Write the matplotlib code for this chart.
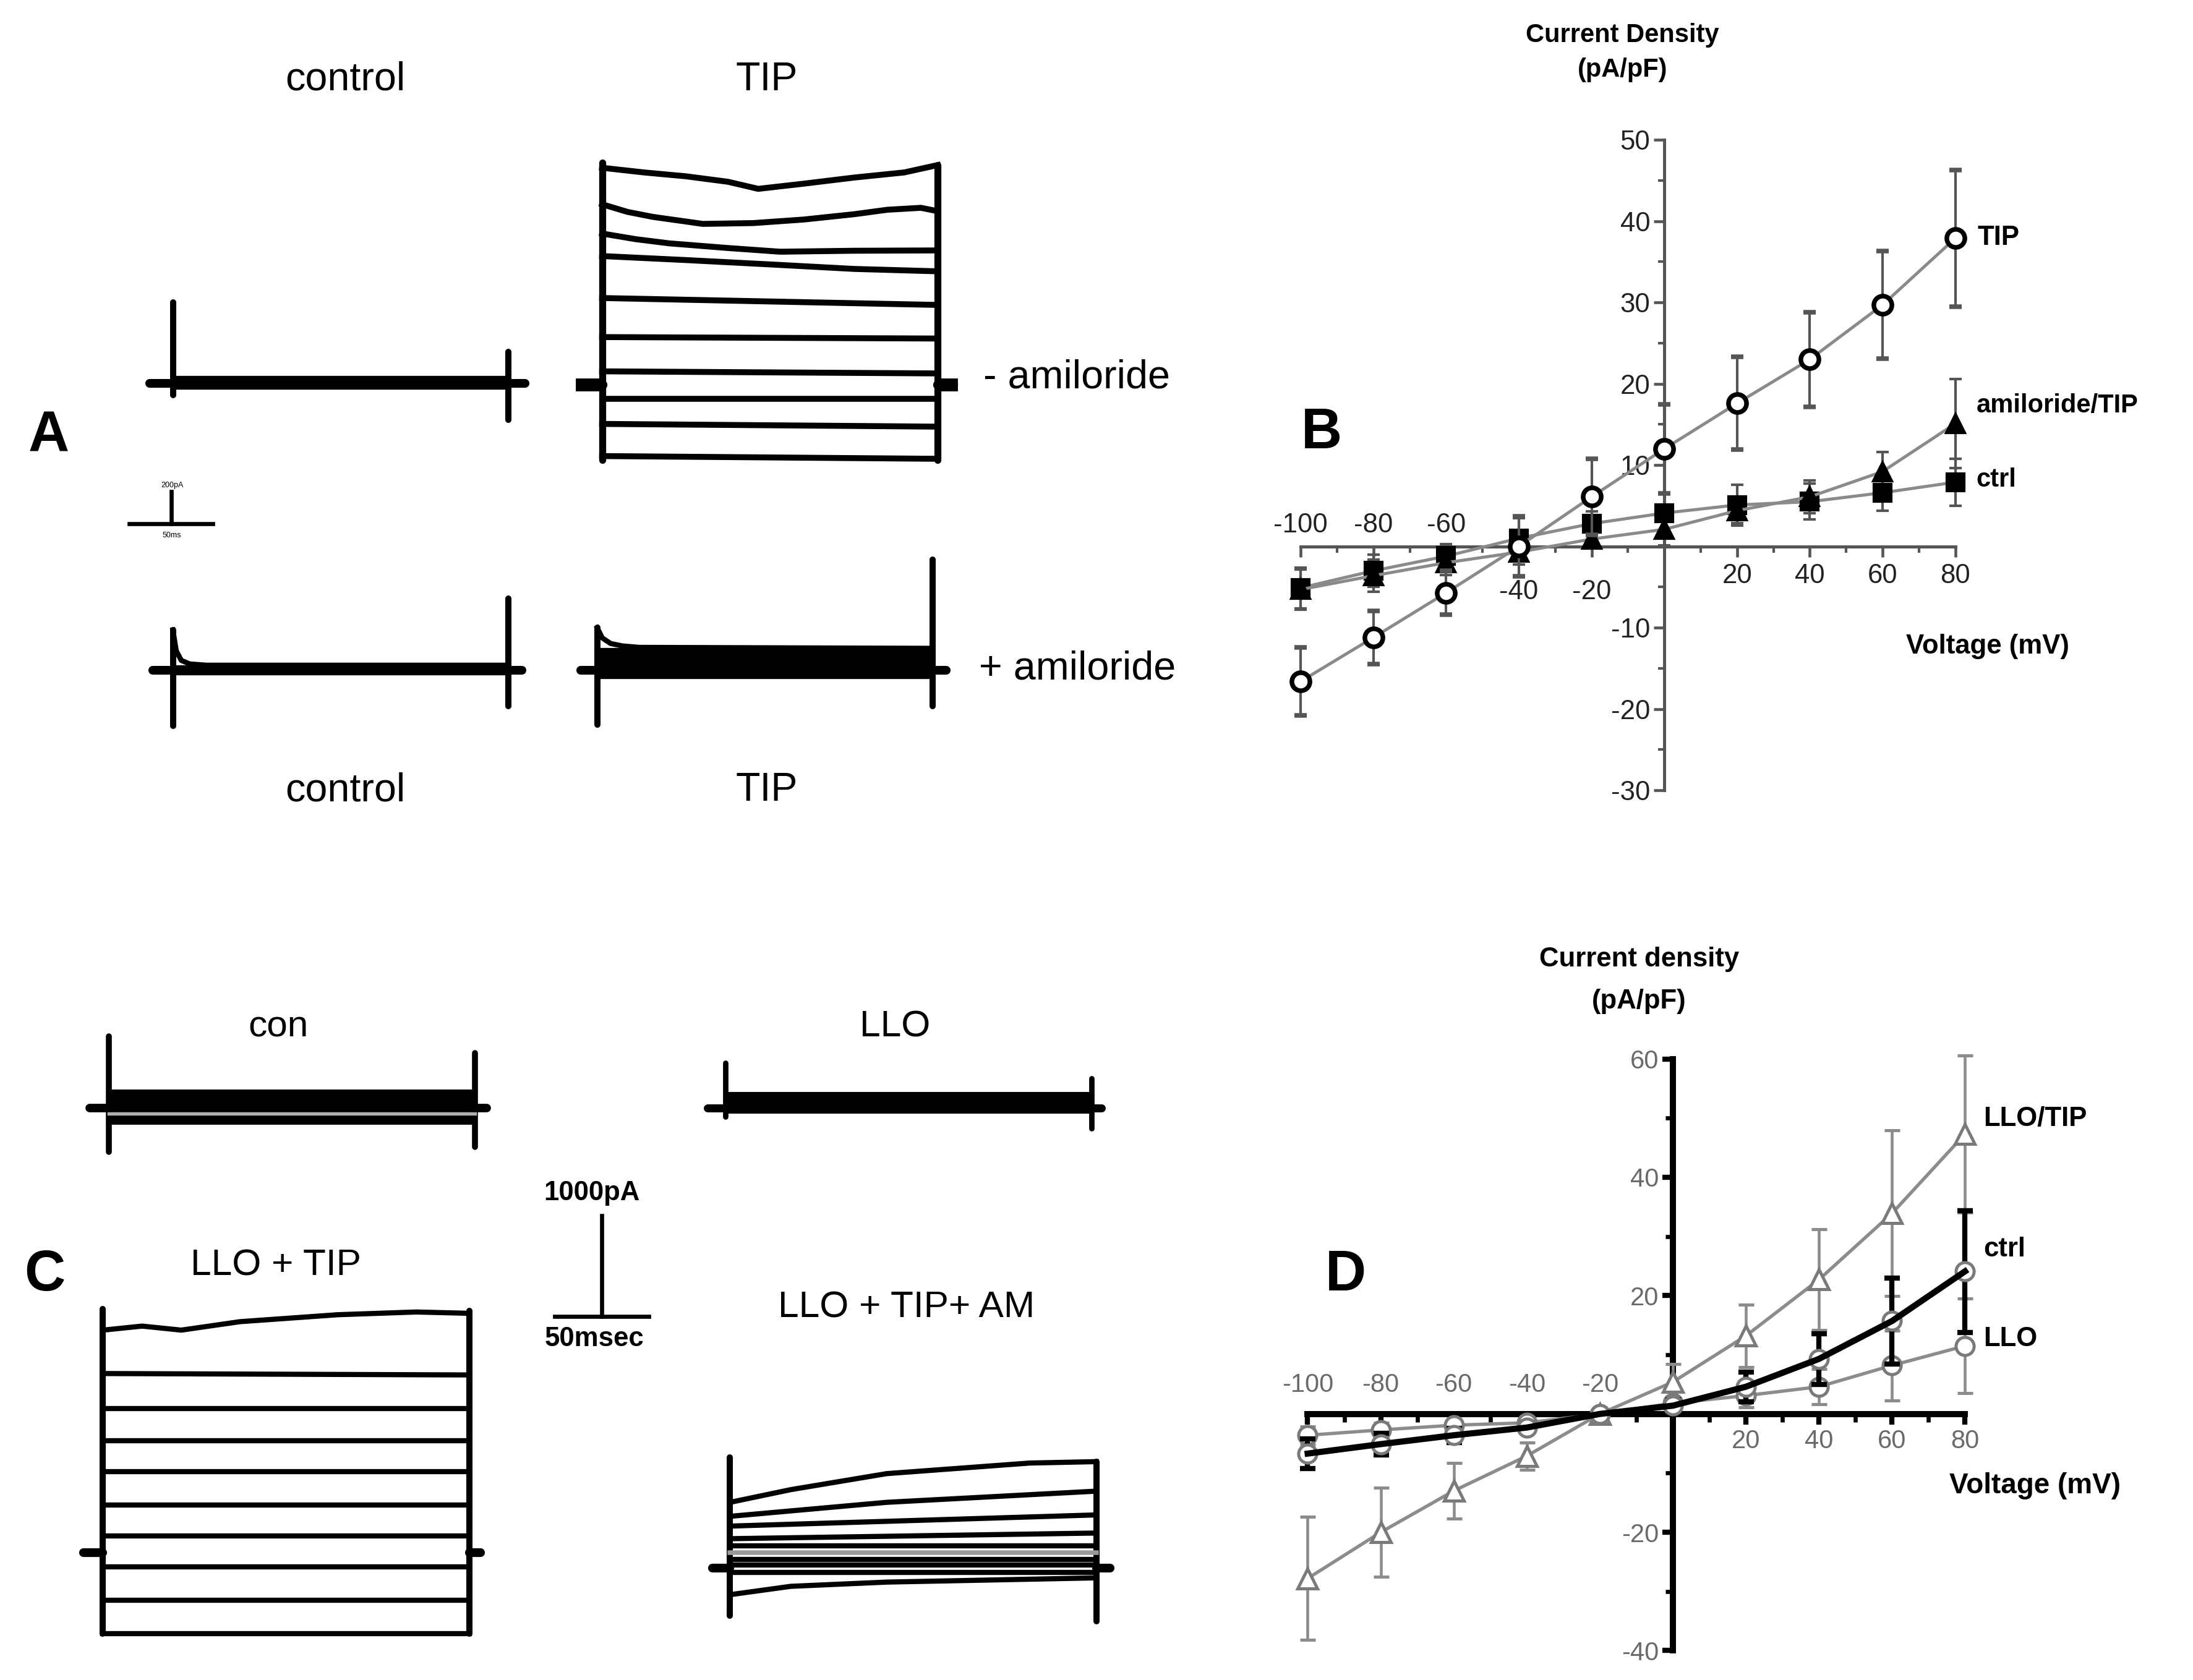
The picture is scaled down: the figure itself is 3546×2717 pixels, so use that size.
import matplotlib.pyplot as plt
from matplotlib.ticker import MultipleLocator

plt.rcParams['font.family'] = ['Liberation Sans', 'DejaVu Sans']

# ---------------- data ----------------
volt = [-100, -80, -60, -40, -20, 0, 20, 40, 60, 80]

# B: current density (pA/pF)
b_tip = [-16.6, -11.2, -5.7, 0.0, 6.1, 12.0, 17.6, 23.0, 29.7, 37.9]
b_tip_err = [4.2, 3.3, 2.7, 3.7, 4.7, 5.5, 5.7, 5.8, 6.6, 8.4]
b_amil = [-5.3, -3.6, -2.0, -0.7, 0.9, 2.1, 4.4, 6.1, 9.2, 15.1]
b_amil_err = [2.5, 2.0, 1.5, 1.5, 1.0, 2.0, 1.5, 2.0, 2.4, 5.5]
b_ctrl = [-5.1, -3.0, -1.2, 1.0, 2.8, 4.1, 5.1, 5.5, 6.6, 7.9]
b_ctrl_err = [2.5, 2.0, 1.5, 2.5, 1.5, 2.5, 2.5, 2.2, 2.2, 2.9]

# D: current density (pA/pF)
d_llotip = [-27.8, -20.0, -13.0, -7.1, 0.0, 5.4, 13.2, 22.7, 33.9, 47.3]
d_llotip_err = [10.4, 7.5, 4.7, 2.3, 0.8, 3.0, 5.3, 8.5, 14.0, 13.3]
d_ctrl = [-6.7, -5.1, -3.6, -2.3, 0.0, 1.4, 4.6, 9.3, 15.7, 24.1]
d_ctrl_err = [2.5, 1.8, 1.2, 0.8, 0.5, 1.0, 2.5, 4.3, 7.3, 10.3]
d_llo = [-3.6, -2.7, -1.9, -1.5, 0.0, 1.8, 3.1, 4.6, 8.2, 11.5]
d_llo_err = [1.5, 1.2, 1.0, 0.8, 0.5, 1.0, 2.0, 3.0, 5.9, 8.0]

# A: whole-cell current traces (pA vs ms)
a_pulse = 200
a_tip_t = [[0, 25, 50, 75, 93, 120, 150, 180, 200],
           [0, 15, 30, 60, 90, 120, 150, 170, 190, 200],
           [0, 20, 40, 75, 106, 150, 200],
           [0, 50, 100, 150, 200], [0, 200], [0, 200], [0, 200], [0, 200], [0, 200], [0, 200]]
a_tip_i = [[1349, 1320, 1296, 1262, 1218, 1250, 1288, 1320, 1366],
           [1122, 1075, 1044, 1000, 1005, 1027, 1060, 1088, 1100, 1079],
           [940, 905, 879, 850, 827, 833, 835],
           [800, 775, 748, 720, 705], [539, 496], [296, 287],
           [83, 70], [-87, -87], [-244, -261], [-444, -461]]
a_ctl_band = [30, 12, -6, -22]
a_ctlam_decay_t = [0, 2, 5, 10, 20, 200]
a_ctlam_decay_i = [250, 120, 60, 38, 30, 30]
a_ctlam_band = [14, -2, -18]
a_tipam_decay_t = [0, 3, 8, 15, 25, 200]
a_tipam_decay_i = [263, 200, 165, 150, 141, 135]
a_tipam_band = [122, 105, 88, 72, 56, 40, 25, 10, -2, -15, -28, -38]

# C: whole-cell current traces (pA vs ms)
c_pulse = 187
c_con_band = [160, 130, 100, 70, 40, 12, -20, -90, -115, -145]
c_con_grey = [-56]
c_llo_band = [140, 115, 90, 65, 40, 15, -10, -35]
c_tip_t = [[0, 20, 40, 70, 120, 160, 187]] + [[0, 187]] * 9
c_tip_i = [[2210, 2250, 2210, 2294, 2363, 2390, 2377], [1779, 1765], [1432, 1432], [1112, 1112],
           [806, 806], [473, 473], [167, 167], [-139, -139], [-473, -473], [-806, -806]]
c_am_t = [[0, 31, 80, 153, 187], [0, 80, 187], [0, 187], [0, 187], [0, 187],
          [0, 187], [0, 187], [0, 187], [0, 31, 80, 187]]
c_am_i = [[653, 779, 938, 1043, 1057], [514, 653, 764], [417, 528], [292, 348],
          [222, 222], [83, 83], [28, 28], [-40, -40], [-264, -181, -139, -97]]
c_am_grey = [153]

# ---------------- figure ----------------
W, H = 1568, 1201
fig = plt.figure(figsize=(3546 / 300, 2717 / 300), dpi=300)
bg = fig.add_axes([0, 0, 1, 1])
bg.set_xlim(0, W)
bg.set_ylim(H, 0)
bg.axis('off')


def box(x0, y0, x1, y1):
    return [x0 / W, 1 - y1 / H, (x1 - x0) / W, (y1 - y0) / H]


def trace_ax(x0, y_hold, ms_px, pa_px, tlim=(-40, 240), ilim=(-1200, 2600)):
    ax = fig.add_axes(box(x0 + tlim[0] / ms_px, y_hold - ilim[1] / pa_px,
                          x0 + tlim[1] / ms_px, y_hold - ilim[0] / pa_px))
    ax.set_xlim(tlim)
    ax.set_ylim(ilim)
    ax.axis('off')
    return ax


def draw_cell(ax, pulse, ts, iis, on, off, pre, post, lw=1.6, color='k'):
    for t, i in zip(ts, iis):
        ax.plot(t, i, color=color, lw=lw, solid_joinstyle='round')
    ax.plot([0, 0], on, color='k', lw=lw + 0.4, solid_capstyle='round')
    ax.plot([pulse, pulse], off, color='k', lw=lw + 0.4, solid_capstyle='round')
    ax.plot([-pre, 0], [0, 0], color='k', lw=lw + 1.4, solid_capstyle='round')
    ax.plot([pulse, pulse + post], [0, 0], color='k', lw=lw + 1.4, solid_capstyle='round')


def flat(levels, pulse):
    return [[0, pulse]] * len(levels), [[v, v] for v in levels]


# ---- panel A traces
ms_a, pa_a = 50 / 60, 8.7
ax = trace_ax(123.6, 274, ms_a, pa_a)
t, i = flat(a_ctl_band, a_pulse)
draw_cell(ax, a_pulse, t, i, [505, -72], [197, -226], 14, 10, lw=2.0)

ax = trace_ax(430.5, 275, ms_a, pa_a)
draw_cell(ax, a_pulse, a_tip_t, a_tip_i, [1380, -470], [1366, -470], 12, 9, lw=2.3)
ax.plot([-12, -5], [0, 0], color='k', lw=5)
ax.plot([a_pulse + 3, a_pulse + 8], [0, 0], color='k', lw=5)

ax = trace_ax(123.6, 479, ms_a, pa_a)
t, i = flat(a_ctlam_band, a_pulse)
draw_cell(ax, a_pulse, [a_ctlam_decay_t] + t, [a_ctlam_decay_i] + i,
          [250, -346], [444, -226], 12, 8, lw=2.0)

ax = trace_ax(427, 479, ms_a, pa_a)
t, i = flat(a_tipam_band, a_pulse)
draw_cell(ax, a_pulse, [a_tipam_decay_t] + t, [a_tipam_decay_i] + i,
          [263, -340], [687, -226], 10, 8, lw=2.0)

# A scale bar
ax = trace_ax(122.3, 374.4, ms_a, pa_a)
ax.plot([-25, 25], [0, 0], color='k', lw=1.6)
ax.plot([0, 0], [0, 200], color='k', lw=1.6)
bg.text(123, 347, '200pA', fontsize=3, ha='center', va='center')
bg.text(123, 383, '50ms', fontsize=3, ha='center', va='center')

# ---- panel C traces
ms_c, pa_c = 50 / 70, 1000 / 72
ax = trace_ax(78, 792, ms_c, pa_c)
t, i = flat(c_con_band, c_pulse)
draw_cell(ax, c_pulse, t, i, [709, -439], [542, -389], 10, 6, lw=1.9)
t, i = flat(c_con_grey, c_pulse)
ax.plot(t[0], i[0], color='#b0b0b0', lw=1.3)

ax = trace_ax(518.6, 792, ms_c, pa_c)
t, i = flat(c_llo_band, c_pulse)
draw_cell(ax, c_pulse, t, i, [445, -90], [292, -203], 9, 5, lw=1.7)

ax = trace_ax(73.6, 1110, ms_c, pa_c)
draw_cell(ax, c_pulse, c_tip_t, c_tip_i, [2420, -806], [2400, -806], 10, 6, lw=2.0)

ax = trace_ax(522, 1121, ms_c, pa_c)
draw_cell(ax, c_pulse, c_am_t, c_am_i, [1098, -473], [1057, -528], 9, 7, lw=2.0)
t, i = flat(c_am_grey, c_pulse)
ax.plot(t[0], i[0], color='#9a9a9a', lw=1.8)

# C scale bar
ax = trace_ax(430.4, 941, ms_c, pa_c)
ax.plot([-24, 24], [0, 0], color='k', lw=1.6)
ax.plot([0, 0], [0, 1000], color='k', lw=1.6)
bg.text(423, 853, '1000pA', fontsize=10.5, fontweight='bold', ha='center', va='center')
bg.text(425, 957, '50msec', fontsize=10.5, fontweight='bold', ha='center', va='center')

# ---- texts for A and C
for x, y, s in [(247, 57, 'control'), (548, 57, 'TIP'), (247, 565, 'control'), (548, 565, 'TIP')]:
    bg.text(x, y, s, fontsize=15.5, ha='center', va='center')
bg.text(703, 270, '- amiloride', fontsize=15.5, ha='left', va='center')
bg.text(700, 478, '+ amiloride', fontsize=15.5, ha='left', va='center')
for x, y, s in [(199, 734, 'con'), (640, 734, 'LLO'), (197, 905, 'LLO + TIP'), (648, 935, 'LLO + TIP+ AM')]:
    bg.text(x, y, s, fontsize=14.5, ha='center', va='center')
for x, y, s in [(35, 312, 'A'), (945, 310, 'B'), (32, 912, 'C'), (962, 912, 'D')]:
    bg.text(x, y, s, fontsize=22, fontweight='bold', ha='center', va='center')

# ---------------- panel B ----------------
axb = fig.add_axes(box(930, 100, 1398, 565))
axb.set_xlim(-100, 80)
axb.set_ylim(-30, 50)
axb.patch.set_alpha(0)
for s in ['top', 'right']:
    axb.spines[s].set_visible(False)
for s in ['left', 'bottom']:
    axb.spines[s].set_position(('data', 0))
    axb.spines[s].set_color('#555555')
    axb.spines[s].set_linewidth(1.2)
axb.xaxis.set_major_locator(MultipleLocator(20))
axb.xaxis.set_minor_locator(MultipleLocator(10))
axb.yaxis.set_major_locator(MultipleLocator(10))
axb.yaxis.set_minor_locator(MultipleLocator(5))
axb.tick_params(axis='both', which='major', direction='out', length=4, width=1.1, color='#555555')
axb.tick_params(axis='both', which='minor', direction='out', length=2.5, width=1.0, color='#555555')
axb.tick_params(axis='x', labelbottom=False)
axb.tick_params(axis='y', labelsize=10.5, labelcolor='#222222', pad=1.5)
axb.set_yticks([-30, -20, -10, 0, 10, 20, 30, 40, 50])
axb.set_yticklabels(['-30', '-20', '-10', '', '10', '20', '30', '40', '50'])

axb.errorbar(volt, b_ctrl, yerr=b_ctrl_err, fmt='-s', color='#8a8a8a', lw=1.2,
             ecolor='#555555', elinewidth=1.0, capsize=2.5, capthick=1.0,
             mfc='black', mec='black', ms=6.5, zorder=3)
axb.errorbar(volt, b_amil, yerr=b_amil_err, fmt='-^', color='#8a8a8a', lw=1.2,
             ecolor='#555555', elinewidth=1.0, capsize=2.5, capthick=1.0,
             mfc='black', mec='black', ms=7, zorder=3)
axb.errorbar(volt, b_tip, yerr=b_tip_err, fmt='-o', color='#8a8a8a', lw=1.2,
             ecolor='#555555', elinewidth=1.0, capsize=2.5, capthick=1.0,
             mfc='white', mec='black', mew=1.8, ms=7, zorder=4)
for art in axb.get_children():
    art.set_clip_on(False)

for v in volt:
    if v in (-100, -80, -60):
        axb.text(v, 2.6, str(v), fontsize=10.5, color='#222222', ha='center', va='center')
    elif v in (-40, -20):
        axb.text(v, -5.6, str(v), fontsize=10.5, color='#222222', ha='center', va='center')
    elif v > 0:
        axb.text(v, -3.6, str(v), fontsize=10.5, color='#222222', ha='center', va='center')

bg.text(1160, 25, 'Current Density', fontsize=10, fontweight='bold', ha='center', va='center')
bg.text(1160, 50, '(pA/pF)', fontsize=10, fontweight='bold', ha='center', va='center')
bg.text(1421, 462, 'Voltage (mV)', fontsize=10.5, fontweight='bold', ha='center', va='center')
bg.text(1414, 170, 'TIP', fontsize=10.5, fontweight='bold', ha='left', va='center')
bg.text(1413, 290, 'amiloride/TIP', fontsize=10, fontweight='bold', ha='left', va='center')
bg.text(1413, 343, 'ctrl', fontsize=10, fontweight='bold', ha='left', va='center')

# ---------------- panel D ----------------
axd = fig.add_axes(box(935, 757, 1405, 1180))
axd.set_xlim(-100, 80)
axd.set_ylim(-40, 60)
axd.patch.set_alpha(0)
for s in ['top', 'right']:
    axd.spines[s].set_visible(False)
for s in ['left', 'bottom']:
    axd.spines[s].set_position(('data', 0))
    axd.spines[s].set_color('black')
    axd.spines[s].set_linewidth(2.4)
axd.xaxis.set_major_locator(MultipleLocator(20))
axd.xaxis.set_minor_locator(MultipleLocator(10))
axd.yaxis.set_major_locator(MultipleLocator(20))
axd.yaxis.set_minor_locator(MultipleLocator(10))
axd.tick_params(axis='both', which='major', direction='out', length=4, width=2, color='black')
axd.tick_params(axis='both', which='minor', direction='out', length=3, width=1.6, color='black')
axd.tick_params(axis='x', labelbottom=False)
axd.tick_params(axis='y', labelsize=10, labelcolor='#6a6a6a', pad=1.5)
axd.set_yticks([-40, -20, 0, 20, 40, 60])
axd.set_yticklabels(['-40', '-20', '', '20', '40', '60'])

axd.errorbar(volt, d_llotip, yerr=d_llotip_err, fmt='-^', color='#8c8c8c', lw=1.3,
             ecolor='#8c8c8c', elinewidth=1.1, capsize=3, capthick=1.1,
             mfc='white', mec='#7a7a7a', mew=1.2, ms=7.5, zorder=3)
axd.errorbar(volt, d_llo, yerr=d_llo_err, fmt='-o', color='#8c8c8c', lw=1.3,
             ecolor='#8c8c8c', elinewidth=1.1, capsize=3, capthick=1.1,
             mfc='white', mec='#7a7a7a', mew=1.2, ms=7, zorder=3)
axd.errorbar(volt, d_ctrl, yerr=d_ctrl_err, fmt='none', ecolor='black',
             elinewidth=2.0, capsize=3, capthick=2.0, zorder=4)
axd.plot(volt, d_ctrl, 'o', mfc='white', mec='#7a7a7a', mew=1.2, ms=7, zorder=4)
axd.plot(volt, d_ctrl, '-', color='black', lw=2.4, zorder=5)
for art in axd.get_children():
    art.set_clip_on(False)

for v in volt:
    if v < 0:
        axd.text(v, 4.9, str(v), fontsize=10, color='#6a6a6a', ha='center', va='center')
    elif v > 0:
        axd.text(v, -4.6, str(v), fontsize=10, color='#6a6a6a', ha='center', va='center')

bg.text(1172, 686, 'Current density', fontsize=10.5, fontweight='bold', ha='center', va='center')
bg.text(1172, 716, '(pA/pF)', fontsize=10.5, fontweight='bold', ha='center', va='center')
bg.text(1455, 1062, 'Voltage (mV)', fontsize=11, fontweight='bold', ha='center', va='center')
bg.text(1418, 800, 'LLO/TIP', fontsize=10.5, fontweight='bold', ha='left', va='center')
bg.text(1418, 893, 'ctrl', fontsize=10.5, fontweight='bold', ha='left', va='center')
bg.text(1418, 957, 'LLO', fontsize=10.5, fontweight='bold', ha='left', va='center')

fig.savefig('out.png', dpi=300, facecolor='white')
